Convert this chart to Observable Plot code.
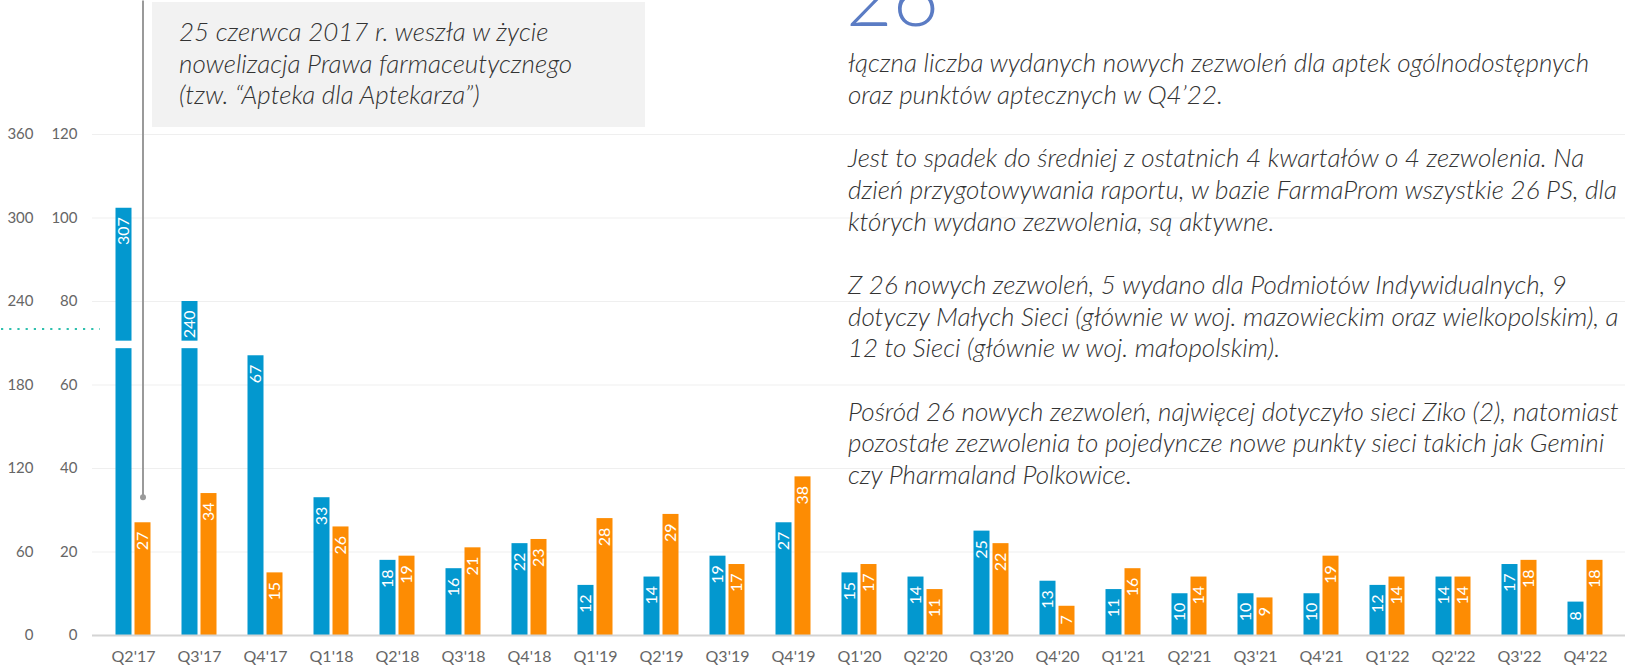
<!DOCTYPE html>
<html><head><meta charset="utf-8">
<script src="https://cdn.jsdelivr.net/npm/d3@7"></script>
<script src="https://cdn.jsdelivr.net/npm/@observablehq/plot@0.6"></script>
<style>
body{margin:0;background:#fff;}
#wrap{position:relative;width:1628px;height:666px;overflow:hidden;font-family:Lato,"Open Sans",sans-serif;}
#chart{position:absolute;left:0;top:0;}
.note{position:absolute;left:152px;top:2px;width:493px;height:125px;background:#f2f2f2;box-sizing:border-box;padding:14px 0 0 27px;font-style:italic;font-weight:300;font-size:26px;line-height:31.5px;color:#333;white-space:nowrap;}
.big{position:absolute;left:846px;top:-45px;font-size:80px;font-weight:300;color:#5b7cc4;line-height:80px;}
.side{position:absolute;left:848px;top:47px;font-style:italic;font-weight:300;font-size:26px;line-height:31.7px;color:#333;white-space:nowrap;}
.side p{margin:0 0 31.7px 0;}
</style></head>
<body>
<div id="wrap">
  <div id="chart"></div>
  <svg width="110" height="10" style="position:absolute;left:0;top:324px"><line x1="1" x2="100" y1="5" y2="5" stroke="#2fc0ae" stroke-width="2.2" stroke-dasharray="2.2 6"/></svg>
  <div class="note" id="note"></div>
  <div class="big" id="big"></div>
  <div class="side" id="side"></div>
</div>
<script>
const quarters = ["Q2'17","Q3'17","Q4'17","Q1'18","Q2'18","Q3'18","Q4'18","Q1'19","Q2'19","Q3'19","Q4'19","Q1'20","Q2'20","Q3'20","Q4'20","Q1'21","Q2'21","Q3'21","Q4'21","Q1'22","Q2'22","Q3'22","Q4'22"];
const blueValues = [307,240,67,33,18,16,22,12,14,19,27,15,14,25,13,11,10,10,10,12,14,17,8];
const orangeValues = [27,34,15,26,19,21,23,28,29,17,38,17,11,22,7,16,14,9,19,14,14,18,18];
const brokenQuarters = ["Q2'17","Q3'17"];
const brokenFactor = 3;
const yTicks = [0,20,40,60,80,100,120];
const breakBand = [68.7, 70.5];
const noteQuarter = "Q2'17";
const noteRange = [33.1, 152];
const noteLines = ["25 czerwca 2017 r. weszła w życie","nowelizacja Prawa farmaceutycznego","(tzw. “Apteka dla Aptekarza”)"];
const sideParagraphs = [
  ["łączna liczba wydanych nowych zezwoleń dla aptek ogólnodostępnych","oraz punktów aptecznych w Q4’22."],
  ["Jest to spadek do średniej z ostatnich 4 kwartałów o 4 zezwolenia. Na","dzień przygotowywania raportu, w bazie FarmaProm wszystkie 26 PS, dla","których wydano zezwolenia, są aktywne."],
  ["Z 26 nowych zezwoleń, 5 wydano dla Podmiotów Indywidualnych, 9","dotyczy Małych Sieci (głównie w woj. mazowieckim oraz wielkopolskim), a","12 to Sieci (głównie w woj. małopolskim)."],
  ["Pośród 26 nowych zezwoleń, najwięcej dotyczyło sieci Ziko (2), natomiast","pozostałe zezwolenia to pojedyncze nowe punkty sieci takich jak Gemini","czy Pharmaland Polkowice."]
];

const BLUE = "#0398cf", ORANGE = "#fd8c03";
const off = 9.5;
const blueRows = quarters.map((q,i)=>({q, value: blueValues[i], plotted: brokenQuarters.includes(q) ? blueValues[i]/brokenFactor : blueValues[i]}));
const orangeRows = quarters.map((q,i)=>({q, value: orangeValues[i], plotted: orangeValues[i]}));

const chart = Plot.plot({
  width: 1628, height: 666,
  marginLeft: 92, marginRight: 3, marginTop: 134, marginBottom: 31,
  x: {domain: quarters, type: "band", paddingInner: 0.76, paddingOuter: 0.38, label: null},
  y: {domain: [0,120], label: null},
  style: {fontFamily: "Lato, sans-serif", background: "transparent", overflow: "visible"},
  marks: [
    Plot.gridY(yTicks.filter(t=>t>0), {stroke: "#efefef", strokeOpacity: 1}),
    Plot.axisY(yTicks, {tickSize: 0, tickPadding: 15, fontSize: 15, color: "#666", label: null}),
    Plot.axisY(yTicks, {tickSize: 0, tickPadding: 59, tickFormat: d => d*brokenFactor, fontSize: 15, color: "#666", label: null}),
    Plot.axisX({tickSize: 0, tickPadding: 15, fontSize: 16, color: "#666", label: null}),
    Plot.barY(blueRows, {x: "q", y: "plotted", fill: BLUE, dx: -off}),
    Plot.barY(orangeRows, {x: "q", y: "plotted", fill: ORANGE, dx: off}),
    Plot.text(blueRows, {x: "q", y: "plotted", text: d => String(d.value), rotate: -90, textAnchor: "end", dx: -off, dy: 9, fill: "white", fontSize: 16}),
    Plot.text(orangeRows, {x: "q", y: "plotted", text: d => String(d.value), rotate: -90, textAnchor: "end", dx: off, dy: 9, fill: "white", fontSize: 16}),
    Plot.barY(blueRows.filter(d => brokenQuarters.includes(d.q)), {x: "q", y1: breakBand[0], y2: breakBand[1], fill: "white", dx: -off, insetLeft: -1, insetRight: -1}),
    Plot.ruleY([0], {stroke: "#d4d4d4", strokeWidth: 2}),
    Plot.ruleX([noteQuarter], {x: d => d, y1: noteRange[0], y2: noteRange[1], stroke: "#9a9a9a", strokeWidth: 2, dx: off}),
    Plot.dot([noteQuarter], {x: d => d, y: noteRange[0], r: 3, fill: "#9a9a9a", dx: off})
  ]
});
document.getElementById("chart").appendChild(chart);

document.getElementById("note").innerHTML = noteLines.join("<br>");
document.getElementById("big").textContent = String(blueValues[blueValues.length-1] + orangeValues[orangeValues.length-1]);
document.getElementById("side").innerHTML = sideParagraphs.map(p => "<p>" + p.join("<br>") + "</p>").join("");
</script>
</body></html>
